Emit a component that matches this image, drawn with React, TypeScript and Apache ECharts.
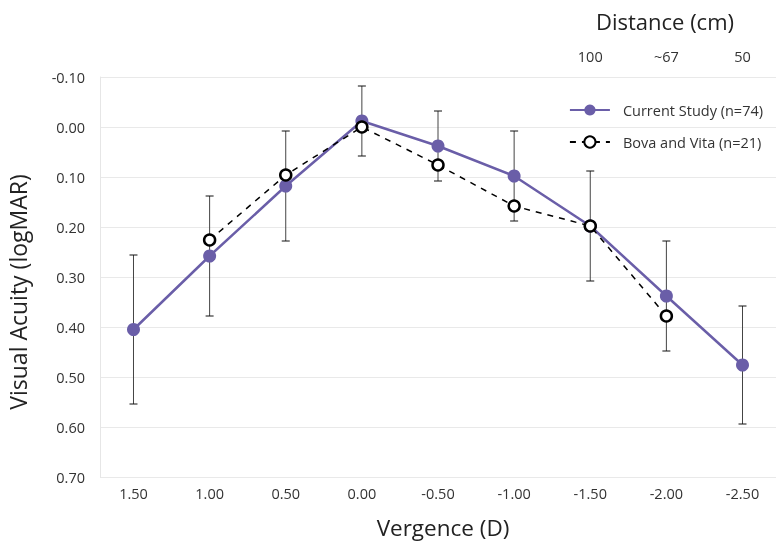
import React, { useEffect, useRef } from "react";
import * as echarts from "echarts";

const vergence = [1.5, 1.0, 0.5, 0.0, -0.5, -1.0, -1.5, -2.0, -2.5];
const xTickValues = [1.5, 1.0, 0.5, 0.0, -0.5, -1.0, -1.5, -2.0, -2.5];
const currentMean = [0.405, 0.258, 0.118, -0.012, 0.038, 0.098, 0.198, 0.338, 0.476];
const currentErr = [0.149, 0.12, 0.11, 0.07, 0.07, 0.09, 0.11, 0.11, 0.118];
const bovaVergence = [1.0, 0.5, 0.0, -0.5, -1.0, -1.5, -2.0];
const bovaMean = [0.226, 0.096, 0.0, 0.076, 0.158, 0.198, 0.378];
const distanceVergence = [-1.5, -2.0, -2.5];
const distanceLabels = ["100", "~67", "50"];

const PURPLE = "#6a5ea8";
const FONT = "'Open Sans', 'Noto Sans', sans-serif";

export default function App() {
  const ref = useRef<HTMLDivElement>(null);
  useEffect(() => {
    document.body.style.margin = "0";
    if (!ref.current) return;
    const chart = echarts.init(ref.current, undefined, { renderer: "svg" });
    const xCommon = {
      type: "value" as const,
      min: -2.72,
      max: 1.72,
      inverse: true,
    };
    const option: any = {
      animation: false,
      textStyle: { fontFamily: FONT },
      grid: { left: 100, right: 0, top: 77, bottom: 65 },
      legend: {
        orient: "vertical",
        right: 8,
        top: 95,
        itemWidth: 40,
        itemHeight: 14,
        itemGap: 12,
        textStyle: { fontSize: 14.5, color: "#333", fontFamily: FONT, padding: [0, 0, 0, 8], height: 20, lineHeight: 20 },
        data: ["Current Study (n=74)", "Bova and Vita (n=21)"],
      },
      xAxis: [
        {
          ...xCommon,
          position: "bottom",
          axisLine: { show: false },
          axisTick: { show: false },
          splitLine: { show: false },
          axisLabel: {
            customValues: xTickValues,
            formatter: (v: number) => v.toFixed(2),
            fontSize: 14.5,
            color: "#333",
            margin: 9,
            fontFamily: FONT,
          },
        },
        {
          ...xCommon,
          position: "top",
          axisLine: { show: false },
          axisTick: { show: false },
          splitLine: { show: false },
          axisLabel: {
            customValues: distanceVergence,
            formatter: (v: number) => {
              const i = distanceVergence.findIndex((d) => Math.abs(d - v) < 1e-6);
              return i >= 0 ? distanceLabels[i] : "";
            },
            fontSize: 14.5,
            color: "#333",
            margin: 13,
            fontFamily: FONT,
          },
        },
      ],
      yAxis: {
        type: "value",
        inverse: true,
        min: -0.1,
        max: 0.7,
        interval: 0.1,
        axisLine: { show: true, onZero: false, lineStyle: { color: "#e6e6e6", width: 1 } },
        axisTick: { show: false },
        splitLine: { show: true, lineStyle: { color: "#e9e9e9", width: 1 } },
        axisLabel: {
          formatter: (v: number) => v.toFixed(2),
          fontSize: 14.5,
          color: "#333",
          margin: 15,
          fontFamily: FONT,
        },
      },
      graphic: [
        {
          type: "text",
          x: 665,
          y: 21,
          style: {
            text: "Distance (cm)",
            fontSize: 22,
            fontFamily: FONT,
            fill: "#222",
            textAlign: "center",
            textVerticalAlign: "middle",
          },
        },
        {
          type: "text",
          x: 443,
          y: 527,
          style: {
            text: "Vergence (D)",
            fontSize: 22.5,
            fontFamily: FONT,
            fill: "#222",
            textAlign: "center",
            textVerticalAlign: "middle",
          },
        },
        {
          type: "text",
          x: 18,
          y: 292,
          rotation: Math.PI / 2,
          style: {
            text: "Visual Acuity (logMAR)",
            fontSize: 23,
            fontFamily: FONT,
            fill: "#222",
            textAlign: "center",
            textVerticalAlign: "middle",
          },
        },
      ],
      series: [
        {
          type: "custom",
          xAxisIndex: 0,
          z: 1,
          silent: true,
          data: vergence.map((x, i) => [x, currentMean[i] - currentErr[i], currentMean[i] + currentErr[i]]),
          renderItem: (params: any, api: any) => {
            const x = api.value(0);
            const p1 = api.coord([x, api.value(1)]);
            const p2 = api.coord([x, api.value(2)]);
            const w = 4;
            const st = { stroke: "#444", lineWidth: 1 };
            const cap = { stroke: "#111", lineWidth: 1 };
            return {
              type: "group",
              children: [
                { type: "line", shape: { x1: p1[0], y1: p1[1], x2: p2[0], y2: p2[1] }, style: st },
                { type: "line", shape: { x1: p1[0] - w, y1: p1[1], x2: p1[0] + w, y2: p1[1] }, style: cap },
                { type: "line", shape: { x1: p2[0] - w, y1: p2[1], x2: p2[0] + w, y2: p2[1] }, style: cap },
              ],
            };
          },
        },
        {
          name: "Current Study (n=74)",
          type: "line",
          xAxisIndex: 0,
          z: 2,
          data: vergence.map((x, i) => [x, currentMean[i]]),
          symbol: "circle",
          symbolSize: 13,
          itemStyle: { color: PURPLE },
          lineStyle: { color: PURPLE, width: 2.5 },
        },
        {
          name: "Bova and Vita (n=21)",
          type: "line",
          xAxisIndex: 0,
          z: 3,
          data: bovaVergence.map((x, i) => [x, bovaMean[i]]),
          symbol: "circle",
          symbolSize: 11,
          itemStyle: { color: "#fff", borderColor: "#000", borderWidth: 2.5 },
          lineStyle: { color: "#000", width: 1.5, type: [6, 6] },
        },
      ],
    };
    chart.setOption(option);
    return () => chart.dispose();
  }, []);
  return <div ref={ref} style={{ position: "fixed", left: 0, top: 0, width: 776, height: 542 }} />;
}
